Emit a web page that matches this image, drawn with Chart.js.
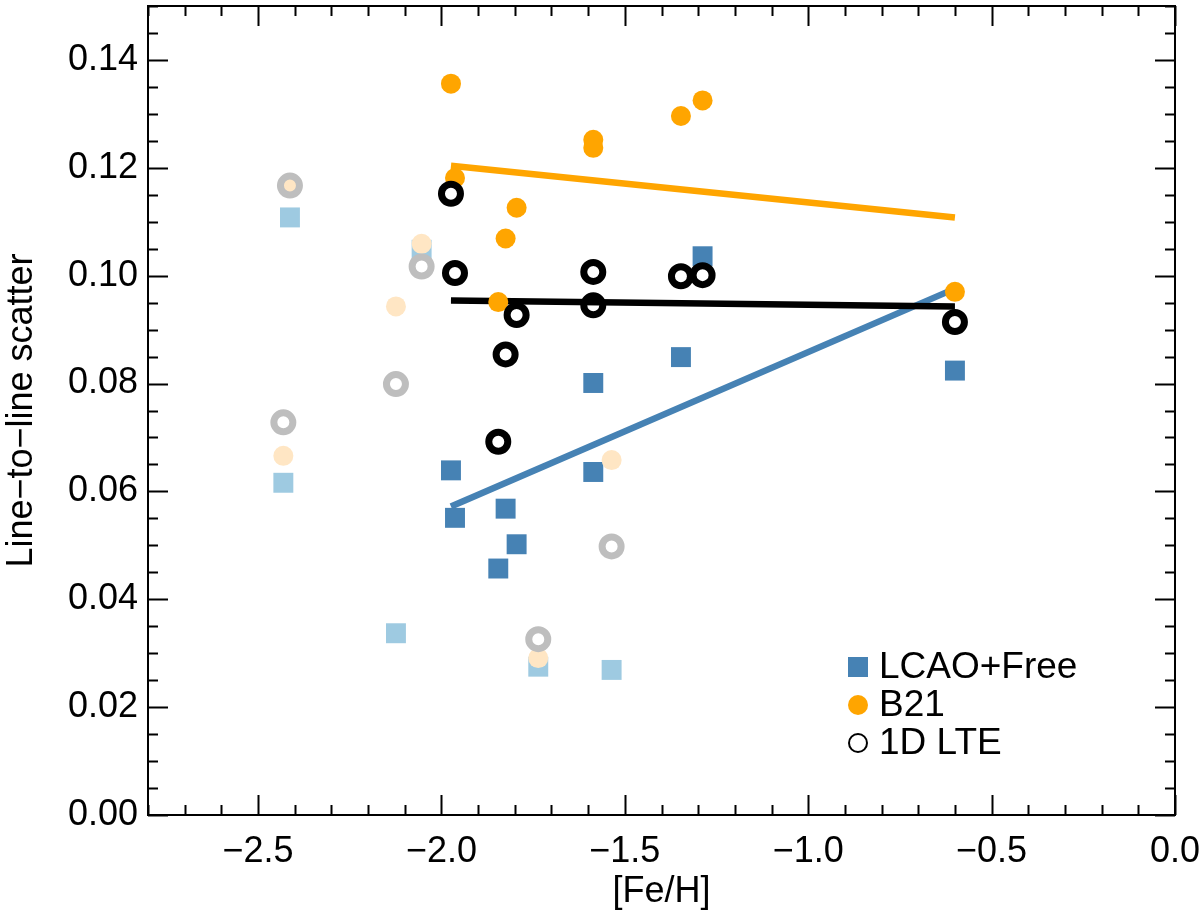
<!DOCTYPE html>
<html>
<head>
<meta charset="utf-8">
<script src="https://cdn.jsdelivr.net/npm/chart.js@4.4.1/dist/chart.umd.min.js"></script>
<style>
  html, body { margin: 0; padding: 0; background: #fff; }
  #wrap { width: 1200px; height: 918px; }
</style>
</head>
<body>
<div id="wrap"><canvas id="scatter"></canvas></div>
<script>
// [Fe/H] of the stars used in the fits and the line-to-line scatter of each method
const feh_fit   = [-1.974, -1.963, -1.845, -1.825, -1.795, -1.586, -1.586, -1.347, -1.288, -0.600];
const lcao_fit  = [0.0639, 0.0551, 0.0457, 0.0568, 0.0502, 0.0801, 0.0636, 0.0849, 0.1036, 0.0824];
const b21_fit   = [0.1356, 0.1181, 0.0951, 0.1069, 0.1126, 0.1252, 0.1237, 0.1296, 0.1325, 0.0970];
const lte_fit   = [0.1152, 0.1005, 0.0692, 0.0854, 0.0927, 0.1007, 0.0945, 0.0999, 0.1001, 0.0914];

// stars left out of the fits (drawn faded)
const feh_out   = [-2.413, -2.431, -2.054, -2.124, -1.736, -1.536];
const lcao_out  = [0.1108, 0.0616, 0.1048, 0.0337, 0.0275, 0.0269];
const b21_out   = [0.1167, 0.0666, 0.1059, 0.0943, 0.0291, 0.0658];
const lte_out   = [0.1167, 0.0728, 0.1017, 0.0799, 0.0326, 0.0498];

// linear fits, end points
const fit_x     = [-1.974, -0.600];
const fit_lcao  = [0.0572, 0.0976];
const fit_b21   = [0.1204, 0.1108];
const fit_lte   = [0.0954, 0.0943];

// axis ticks
const xTicks = [-2.5, -2.0, -1.5, -1.0, -0.5, 0.0];
const yTicks = [0.00, 0.02, 0.04, 0.06, 0.08, 0.10, 0.12, 0.14];
const xMinorStep = 0.1;
const yMinorStep = 0.005;

const legendItems = ['LCAO+Free', 'B21', '1D LTE'];

const BLUE = '#4682b4', LIGHTBLUE = '#9ecae1';
const ORANGE = '#ffa500', LIGHTORANGE = '#ffe6c4';
const GREY = '#bebebe';
const FONT = 'Liberation Sans';

const pts = (xs, ys) => xs.map((x, i) => ({x: x, y: ys[i]}));

function markerSet(xs, ys, style, color, radius, ring, order) {
    return {
        type: 'scatter',
        data: pts(xs, ys),
        pointStyle: style,
        pointRadius: radius,
        pointHoverRadius: radius,
        pointBackgroundColor: ring ? 'rgba(0,0,0,0)' : color,
        pointBorderColor: color,
        pointBorderWidth: ring ? 7 : 0,
        order: order
    };
}

function fitLine(ys, color, order) {
    return {
        type: 'line',
        data: pts(fit_x, ys),
        borderColor: color,
        borderWidth: 6.5,
        borderCapStyle: 'butt',
        pointRadius: 0,
        fill: false,
        order: order
    };
}

// frame with inward ticks on all four sides
const framePlugin = {
    id: 'frame',
    afterDraw(chart) {
        const ctx = chart.ctx, a = chart.chartArea;
        const xs = chart.scales.x, ys = chart.scales.y;
        ctx.save();
        ctx.strokeStyle = '#000';
        ctx.lineWidth = 2;
        ctx.strokeRect(a.left, a.top, a.right - a.left, a.bottom - a.top);
        ctx.beginPath();
        for (let i = 0; ; i++) {
            const v = xs.min + i * xMinorStep;
            if (v > xs.max + 1e-9) break;
            const major = xTicks.some(t => Math.abs(t - v) < 1e-6);
            const len = major ? 20 : 10;
            const p = Math.round(xs.getPixelForValue(v)) + 0.5;
            ctx.moveTo(p, a.bottom); ctx.lineTo(p, a.bottom - len);
            ctx.moveTo(p, a.top); ctx.lineTo(p, a.top + len);
        }
        for (let i = 0; ; i++) {
            const v = ys.min + i * yMinorStep;
            if (v > ys.max + 1e-9) break;
            const major = yTicks.some(t => Math.abs(t - v) < 1e-6);
            const len = major ? 20 : 10;
            const p = Math.round(ys.getPixelForValue(v)) + 0.5;
            ctx.moveTo(a.left, p); ctx.lineTo(a.left + len, p);
            ctx.moveTo(a.right, p); ctx.lineTo(a.right - len, p);
        }
        ctx.stroke();
        ctx.restore();
    }
};

// legend inside the plot, lower right
const legendPlugin = {
    id: 'innerLegend',
    afterDraw(chart) {
        const ctx = chart.ctx, a = chart.chartArea;
        const mx = a.right - 317, tx = a.right - 296;
        const rows = [a.bottom - 148, a.bottom - 110, a.bottom - 72];
        ctx.save();
        ctx.font = '37px "' + FONT + '"';
        ctx.textBaseline = 'middle';
        ctx.fillStyle = '#000';
        rows.forEach((y, i) => ctx.fillText(legendItems[i], tx, y + 1));
        ctx.fillStyle = BLUE;
        ctx.fillRect(mx - 10, rows[0] - 10, 20, 20);
        ctx.fillStyle = ORANGE;
        ctx.beginPath(); ctx.arc(mx, rows[1], 10, 0, 2 * Math.PI); ctx.fill();
        ctx.strokeStyle = '#000';
        ctx.lineWidth = 2;
        ctx.beginPath(); ctx.arc(mx, rows[2], 9, 0, 2 * Math.PI); ctx.stroke();
        ctx.restore();
    }
};

const minus = s => s.replace('-', '\u2212');

new Chart(document.getElementById('scatter').getContext('2d'), {
    data: {
        datasets: [
            markerSet(feh_fit, lte_fit, 'circle', '#000', 9.5, true, 0),
            markerSet(feh_out, lte_out, 'circle', GREY, 9.5, true, 1),
            markerSet(feh_fit, b21_fit, 'circle', ORANGE, 10, false, 2),
            markerSet(feh_out, b21_out, 'circle', LIGHTORANGE, 10, false, 3),
            markerSet(feh_out, lcao_out, 'rect', LIGHTBLUE, 14.1, false, 4),
            markerSet(feh_fit, lcao_fit, 'rect', BLUE, 14.1, false, 5),
            fitLine(fit_b21, ORANGE, 6),
            fitLine(fit_lte, '#000', 7),
            fitLine(fit_lcao, BLUE, 8)
        ]
    },
    options: {
        responsive: true,
        maintainAspectRatio: false,
        animation: false,
        layout: { autoPadding: false, padding: { top: 6, right: 25, left: 0, bottom: 0 } },
        plugins: {
            legend: { display: false },
            tooltip: { enabled: false }
        },
        scales: {
            x: {
                type: 'linear',
                min: -2.8,
                max: 0.0,
                afterBuildTicks: s => { s.ticks = xTicks.map(v => ({value: v})); },
                afterFit: s => { s.height = 103; s.paddingLeft = 0; s.paddingRight = 0; },
                grid: { display: false, drawTicks: false },
                border: { display: false },
                ticks: {
                    padding: 15,
                    color: '#000',
                    font: { family: FONT, size: 36 },
                    callback: v => minus(v.toFixed(1))
                },
                title: {
                    display: true,
                    text: '[Fe/H]',
                    color: '#000',
                    font: { family: FONT, size: 36 },
                    padding: { top: 0, bottom: 4 }
                }
            },
            y: {
                type: 'linear',
                min: 0,
                max: 0.15,
                afterBuildTicks: s => { s.ticks = yTicks.map(v => ({value: v})); },
                afterFit: s => { s.width = 148; s.paddingTop = 0; s.paddingBottom = 0; },
                grid: { display: false, drawTicks: false },
                border: { display: false },
                ticks: {
                    padding: 10,
                    color: '#000',
                    font: { family: FONT, size: 36 },
                    callback: v => v.toFixed(2)
                },
                title: {
                    display: true,
                    text: 'Line\u2212to\u2212line scatter',
                    color: '#000',
                    font: { family: FONT, size: 36 },
                    padding: { top: 0, bottom: 0 }
                }
            }
        }
    },
    plugins: [framePlugin, legendPlugin]
});
</script>
</body>
</html>
